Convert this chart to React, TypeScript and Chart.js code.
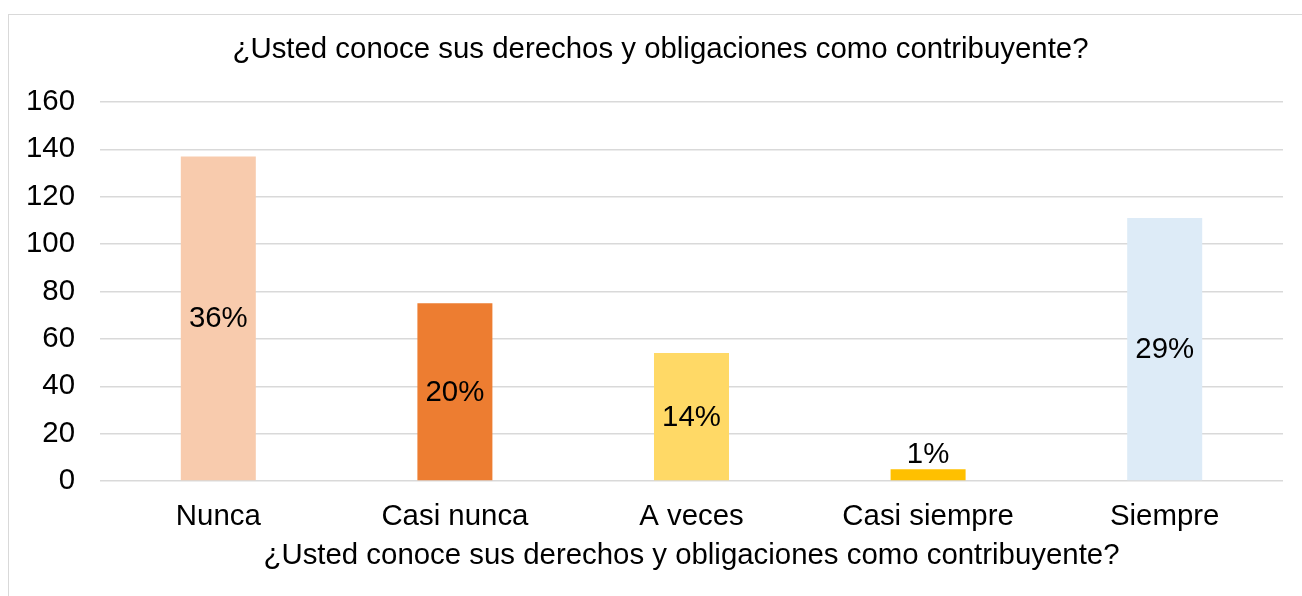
import React, { useEffect, useRef } from "react";
import { Chart, registerables } from "chart.js";

Chart.register(...registerables);

const chartTitle = "¿Usted conoce sus derechos y obligaciones como contribuyente?";
const categories = ["Nunca", "Casi nunca", "A veces", "Casi siempre", "Siempre"];
const counts = [137, 75, 54, 5, 111];
const barColors = ["#F8CBAD", "#ED7D31", "#FFD966", "#FFC000", "#DDEBF7"];
const yMin = 0;
const yMax = 160;
const yStep = 20;

const FONT = "'Liberation Sans', Arial, Helvetica, sans-serif";
const FS = 29.4;

const total = counts.reduce((a, b) => a + b, 0);
const percentLabels = counts.map((v) => Math.round((v / total) * 100) + "%");

const dataLabelPlugin = {
  id: "dataLabels",
  afterDatasetsDraw(chart: any) {
    const { ctx } = chart;
    const meta = chart.getDatasetMeta(0);
    ctx.save();
    ctx.font = `${FS}px ${FONT}`;
    ctx.fillStyle = "#000000";
    ctx.textAlign = "center";
    meta.data.forEach((bar: any, i: number) => {
      const top = bar.y;
      const base = bar.base;
      const h = base - top;
      if (h > 40) {
        ctx.textBaseline = "middle";
        ctx.fillText(percentLabels[i], bar.x, (top + base) / 2 + 1);
      } else {
        ctx.textBaseline = "alphabetic";
        ctx.fillText(percentLabels[i], bar.x, top - 6);
      }
    });
    ctx.restore();
  },
};

const chartTitlePlugin = {
  id: "chartTitleText",
  afterDraw(chart: any) {
    const { ctx } = chart;
    ctx.save();
    ctx.font = `${FS}px ${FONT}`;
    ctx.fillStyle = "#000000";
    ctx.textAlign = "center";
    ctx.textBaseline = "middle";
    ctx.fillText(chartTitle, chart.width / 2 + 5, 35);
    ctx.restore();
  },
};

export default function App() {
  const canvasRef = useRef<HTMLCanvasElement | null>(null);

  useEffect(() => {
    if (!canvasRef.current) return;
    const chart = new Chart(canvasRef.current, {
      type: "bar",
      data: {
        labels: categories,
        datasets: [
          {
            data: counts,
            backgroundColor: barColors,
            borderWidth: 0,
            categoryPercentage: 1,
            barPercentage: 0.317,
          },
        ],
      },
      options: {
        animation: false,
        responsive: true,
        maintainAspectRatio: false,
        layout: { padding: { left: 0, right: 19, top: 87, bottom: 0 } },
        plugins: {
          legend: { display: false },
          tooltip: { enabled: false },
          title: { display: false },
        },
        scales: {
          x: {
            grid: { display: false, drawTicks: false },
            border: { display: false },
            ticks: {
              color: "#000000",
              font: { family: FONT, size: FS, lineHeight: 1.2 },
              padding: 18,
              maxRotation: 0,
              autoSkip: false,
            },
            title: {
              display: true,
              text: chartTitle,
              color: "#000000",
              font: { family: FONT, size: FS, lineHeight: 1.2 },
              padding: { top: 4, bottom: 22.5 },
            },
            afterFit(scale: any) {
              scale.height = 115;
            },
          },
          y: {
            min: yMin,
            max: yMax,
            grid: { color: "#D9D9D9", lineWidth: 1.5, drawTicks: false },
            border: { display: false },
            ticks: {
              stepSize: yStep,
              color: "#000000",
              font: { family: FONT, size: FS, lineHeight: 1.2 },
              padding: 25,
            },
            afterFit(scale: any) {
              scale.width = 91;
            },
          },
        },
      },
      plugins: [dataLabelPlugin, chartTitlePlugin],
    });
    return () => chart.destroy();
  }, []);

  return (
    <div
      style={{
        position: "absolute",
        left: 8,
        top: 14,
        width: 1294,
        height: 582,
        boxSizing: "border-box",
        borderTop: "1px solid #D9D9D9",
        borderLeft: "1px solid #D9D9D9",
        background: "#FFFFFF",
      }}
    >
      <div style={{ position: "relative", width: 1293, height: 581 }}>
        <canvas ref={canvasRef} />
      </div>
    </div>
  );
}
